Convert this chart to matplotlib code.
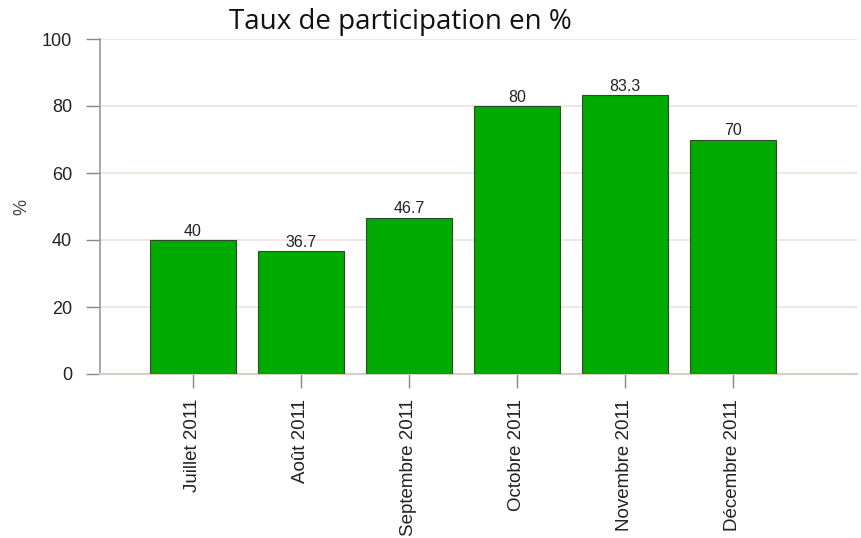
import matplotlib
matplotlib.use("Agg")
import matplotlib.pyplot as plt

# données
mois = ["Juillet 2011", "Août 2011", "Septembre 2011",
        "Octobre 2011", "Novembre 2011", "Décembre 2011"]
taux = [40, 36.7, 46.7, 80, 83.3, 70]
etiquettes = ["40", "36.7", "46.7", "80", "83.3", "70"]
yticks = [0, 20, 40, 60, 80, 100]

plt.rcParams['font.family'] = ['Liberation Sans', 'DejaVu Sans']

fig = plt.figure(figsize=(8.61, 5.38), dpi=100)
ax = fig.add_axes([100 / 861, 1 - 374 / 538, 757 / 861, 335 / 538])

x = list(range(len(mois)))
ax.bar(x, taux, width=0.8, color='#00aa00', edgecolor='#2e4a2e',
       linewidth=0.8, zorder=3)
for xi, v, lab in zip(x, taux, etiquettes):
    ax.text(xi, v + 0.4, lab, ha='center', va='bottom', fontsize=11.5,
            color='#222222', zorder=4)

ax.set_xlim(-0.86, 6.15)
ax.set_ylim(0, 100)
ax.set_yticks(yticks)
ax.set_xticks(x)
ax.set_xticklabels(mois, rotation=90, fontsize=13.5, color='#222222')
ax.tick_params(axis='y', labelsize=13, colors='#222222', length=10,
               width=1, color='#888888', pad=10)
ax.tick_params(axis='x', length=10, width=1, color='#888888', pad=8)

ax.grid(axis='y', color='#f0e2da', linewidth=1.2, zorder=0)
ax.set_axisbelow(True)
for s in ['top', 'right']:
    ax.spines[s].set_visible(False)
ax.spines['left'].set_color('#999999')
ax.spines['left'].set_linewidth(1.2)
ax.spines['bottom'].set_color('#d8cec6')
ax.spines['bottom'].set_linewidth(1.5)

fig.text(22 / 861, 1 - 207 / 538, "%", rotation=90, ha='center',
         va='center', fontsize=13, color='#444444')

fig.text(400 / 861, 1 - 22 / 538, "Taux de participation en %",
         ha='center', va='center', fontsize=20, color='#111111',
         family=['Open Sans', 'DejaVu Sans'])

fig.savefig("out.png", dpi=100)
